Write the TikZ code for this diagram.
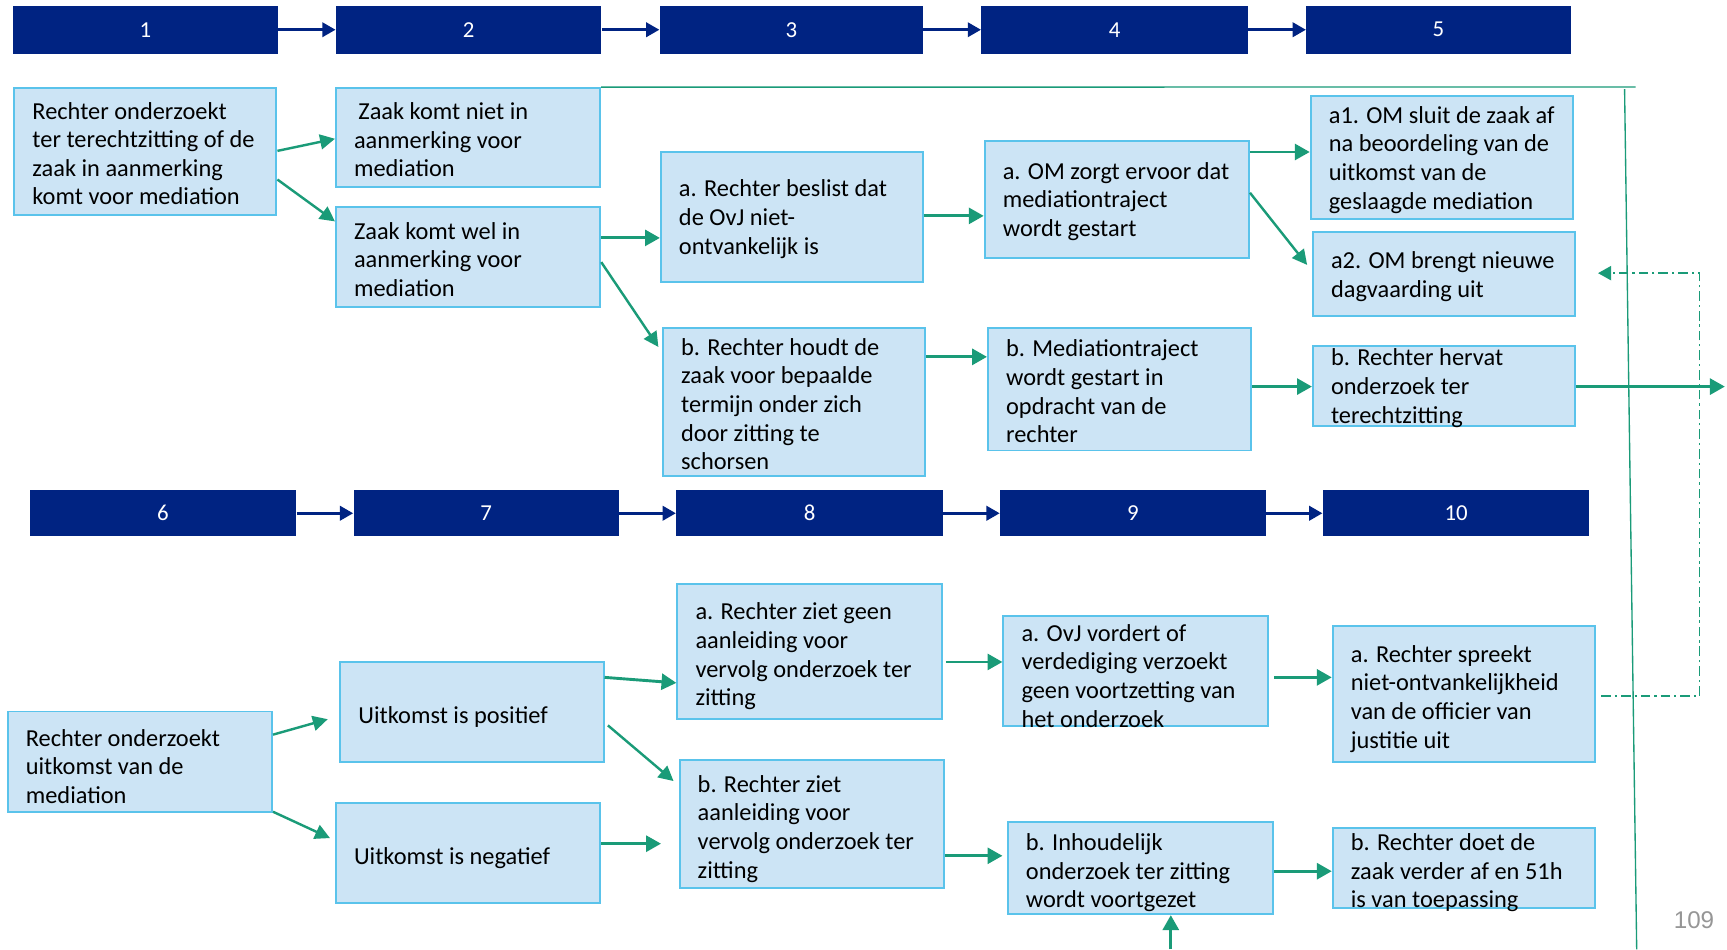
\documentclass[tikz,border=0pt]{standalone}
\usepackage{fontspec}
\setmainfont{Carlito}
\newfontfamily\pgnumfont{Liberation Sans}
\usetikzlibrary{arrows.meta}
\definecolor{hdr}{RGB}{0,35,130}
\definecolor{bfill}{RGB}{204,228,245}
\definecolor{bline}{RGB}{90,195,235}
\definecolor{grn}{RGB}{26,155,120}
\definecolor{pggray}{RGB}{150,150,150}
\tikzset{
  hdrbox/.style={fill=hdr, draw=none, text=white, inner sep=0pt,
    font=\fontsize{11.8}{13}\selectfont},
  flowbox/.style={fill=bfill, draw=bline, line width=1pt, inner sep=0pt},
  txt/.style={align=left, inner sep=0pt, anchor=west,
    font=\fontsize{12.6}{14.8}\selectfont},
  harrow/.style={draw=hdr, line width=1.4pt, -{Triangle[length=0.24cm,width=0.26cm]}},
  garrow/.style={draw=grn, line width=1.5pt, -{Triangle[length=0.27cm,width=0.29cm]}},
  gdiag/.style={draw=grn, line width=1.25pt, -{Triangle[length=0.27cm,width=0.27cm]}},
  thinline/.style={draw=grn, line width=0.7pt},
  dashdotline/.style={draw=grn, line width=0.8pt,
    dash pattern=on 5pt off 2pt on 1.2pt off 2pt,
    -{Triangle[length=0.24cm,width=0.26cm]}},
}
\newcommand\txtdy{-0.04cm}
\newcommand\flowbx[6]{%
  \pgfmathsetmacro\bxw{(#4-#2)*0.02}%
  \pgfmathsetmacro\bxh{(#5-#3)*0.02}%
  \node[flowbox, minimum width=\bxw cm, minimum height=\bxh cm] (#1) at ({(#2+#4)/2},{(#3+#5)/2}) {};
  \node[txt] (#1t) at ([xshift=0.34cm, yshift=\txtdy]#1.west) {#6};
}
\newcommand\hdrbx[6]{%
  \pgfmathsetmacro\bxw{(#4-#2)*0.02}%
  \pgfmathsetmacro\bxh{(#5-#3)*0.02}%
  \node[hdrbox, minimum width=\bxw cm, minimum height=\bxh cm] (#1) at ({(#2+#4)/2},{(#3+#5)/2}) {#6};
}
\begin{document}
\begin{tikzpicture}[x=0.02cm, y=-0.02cm]
\useasboundingbox (0,0) rectangle (1568,862);
\fill[white] (0,0) rectangle (1568,862);

% headers
\hdrbx{h1}{12}{5}{252}{49}{1}
\hdrbx{h2}{305}{5}{546}{49}{2}
\hdrbx{h3}{599}{5}{838}{49}{3}
\hdrbx{h4}{891}{5}{1133}{49}{4}
\hdrbx{h5}{1186}{5}{1426}{49}{5}
\hdrbx{h6}{27}{445}{269}{487}{6}
\hdrbx{h7}{321}{445}{562}{487}{7}
\hdrbx{h8}{614}{445}{856}{487}{8}
\hdrbx{h9}{908}{445}{1149}{487}{9}
\hdrbx{h10}{1201}{445}{1443}{487}{10}
\draw[harrow] (h1.east) -- (h2.west);
\draw[harrow] (h2.east) -- (h3.west);
\draw[harrow] (h3.east) -- (h4.west);
\draw[harrow] (h4.east) -- (h5.west);
\draw[harrow] (h6.east) -- (h7.west);
\draw[harrow] (h7.east) -- (h8.west);
\draw[harrow] (h8.east) -- (h9.west);
\draw[harrow] (h9.east) -- (h10.west);

% thin green frame lines
\coordinate (topR) at (1485,79);
\coordinate (vtop) at (1475,81);
\coordinate (vbot) at (1486,862);

% row 1 boxes
\flowbx{A}{13}{80}{251}{195}{Rechter onderzoekt\\ter terechtzitting of de\\zaak in aanmerking\\komt voor mediation}
\flowbx{B}{305}{80}{545}{170}{\hspace*{0.08cm}Zaak komt niet in\\aanmerking voor\\mediation}
\flowbx{C}{305}{188}{545}{279}{Zaak komt wel in\\aanmerking voor\\mediation}
\flowbx{D}{600}{138}{838}{256}{a. Rechter beslist dat\\de OvJ niet-\\ontvankelijk is}
\flowbx{E}{602}{298}{840}{432}{b. Rechter houdt de\\zaak voor bepaalde\\termijn onder zich\\door zitting te\\schorsen}
\flowbx{F}{894}{128}{1134}{234}{a. OM zorgt ervoor dat\\mediationtraject\\wordt gestart}
\flowbx{G}{897}{298}{1136}{409}{b. Mediationtraject\\wordt gestart in\\opdracht van de\\rechter}
\flowbx{H}{1190}{87}{1428}{199}{a1. OM sluit de zaak af\\na beoordeling van de\\uitkomst van de\\geslaagde mediation}
\flowbx{I}{1192}{211}{1430}{287}{a2. OM brengt nieuwe\\dagvaarding uit}
\flowbx{J}{1192}{314}{1430}{387}{b. Rechter hervat\\onderzoek ter\\terechtzitting}

\draw[thinline] (B.north east) -- (topR);
\draw[thinline] (vtop) -- (vbot);

% row 2 boxes
\renewcommand\txtdy{-0.09cm}
\flowbx{K}{7}{646}{247}{737}{Rechter onderzoekt\\uitkomst van de\\mediation}
\flowbx{L}{309}{601}{548}{692}{Uitkomst is positief}
\flowbx{M}{305}{729}{545}{820}{Uitkomst is negatief}
\flowbx{N}{615}{530}{855}{653}{a. Rechter ziet geen\\aanleiding voor\\vervolg onderzoek ter\\zitting}
\flowbx{O}{617}{690}{857}{806}{b. Rechter ziet\\aanleiding voor\\vervolg onderzoek ter\\zitting}
\flowbx{P}{911}{559}{1151}{659}{a. OvJ vordert of\\verdediging verzoekt\\geen voortzetting van\\het onderzoek}
\flowbx{Q}{1210}{568}{1448}{692}{a. Rechter spreekt\\niet-ontvankelijkheid\\van de officier van\\justitie uit}
\flowbx{R}{915}{746}{1156}{830}{b. Inhoudelijk\\onderzoek ter zitting\\wordt voortgezet}
\flowbx{S}{1210}{752}{1448}{824}{b. Rechter doet de\\zaak verder af en 51h\\is van toepassing}

% row 1 arrows
\draw[gdiag] (A.east |- 0,137) -- (B.west |- 0,126);
\draw[gdiag] (A.east |- 0,163) -- (C.west |- 0,201);
\draw[garrow] (C.east |- 0,216) -- (D.west |- 0,216);
\draw[gdiag, shorten >=0.12cm] (C.east |- 0,238) -- (E.west |- 0,320);
\draw[garrow] (D.east |- 0,196) -- (F.west |- 0,196);
\draw[garrow] (E.east |- 0,324) -- (G.west |- 0,324);
\draw[garrow] (F.east |- 0,138) -- (H.west |- 0,138);
\draw[gdiag, shorten >=0.14cm] (F.east |- 0,175) -- (I.west |- 0,246);
\draw[garrow] (G.east |- 0,351) -- (J.west |- 0,351);
\coordinate (outR) at (1566,351);
\draw[garrow] (J.east |- 0,351) -- (outR);

% row 2 arrows
\draw[gdiag, shorten >=0.22cm] (K.east |- 0,667) -- (L.west |- 0,650);
\draw[gdiag, shorten >=0.1cm] (K.east |- 0,737) -- (M.west |- 0,763);
\draw[garrow] (L.east |- 0,615) -- (N.west |- 0,620);
\draw[gdiag, shorten <=0.08cm, shorten >=0.12cm] (L.east |- 0,656) -- (O.west |- 0,713);
\draw[garrow, shorten >=0.32cm] (M.east |- 0,766) -- (O.west |- 0,766);
\draw[garrow, shorten <=0.06cm] (N.east |- 0,601) -- (P.west |- 0,601);
\draw[garrow, shorten >=0.08cm] (O.east |- 0,777) -- (R.west |- 0,777);
\draw[garrow, shorten <=0.1cm] (P.east |- 0,615) -- (Q.west |- 0,615);
\draw[garrow] (R.east |- 0,791) -- (S.west |- 0,791);
\coordinate (inR) at (1063,862);
\draw[garrow] (inR) -- (inR |- R.south);

% dash-dot feedback
\coordinate (ddA) at (1543,632);
\coordinate (ddB) at (1543,248);
\draw[dashdotline, shorten <=0.1cm, shorten >=0.4cm] (Q.east |- 0,632) -- (ddA) -- (ddB) -- (I.east |- 0,248);

% page number
\node[font=\pgnumfont\fontsize{12.5}{14}\selectfont, text=pggray, inner sep=0pt] (pg) at (1538,835) {109};
\end{tikzpicture}
\end{document}
